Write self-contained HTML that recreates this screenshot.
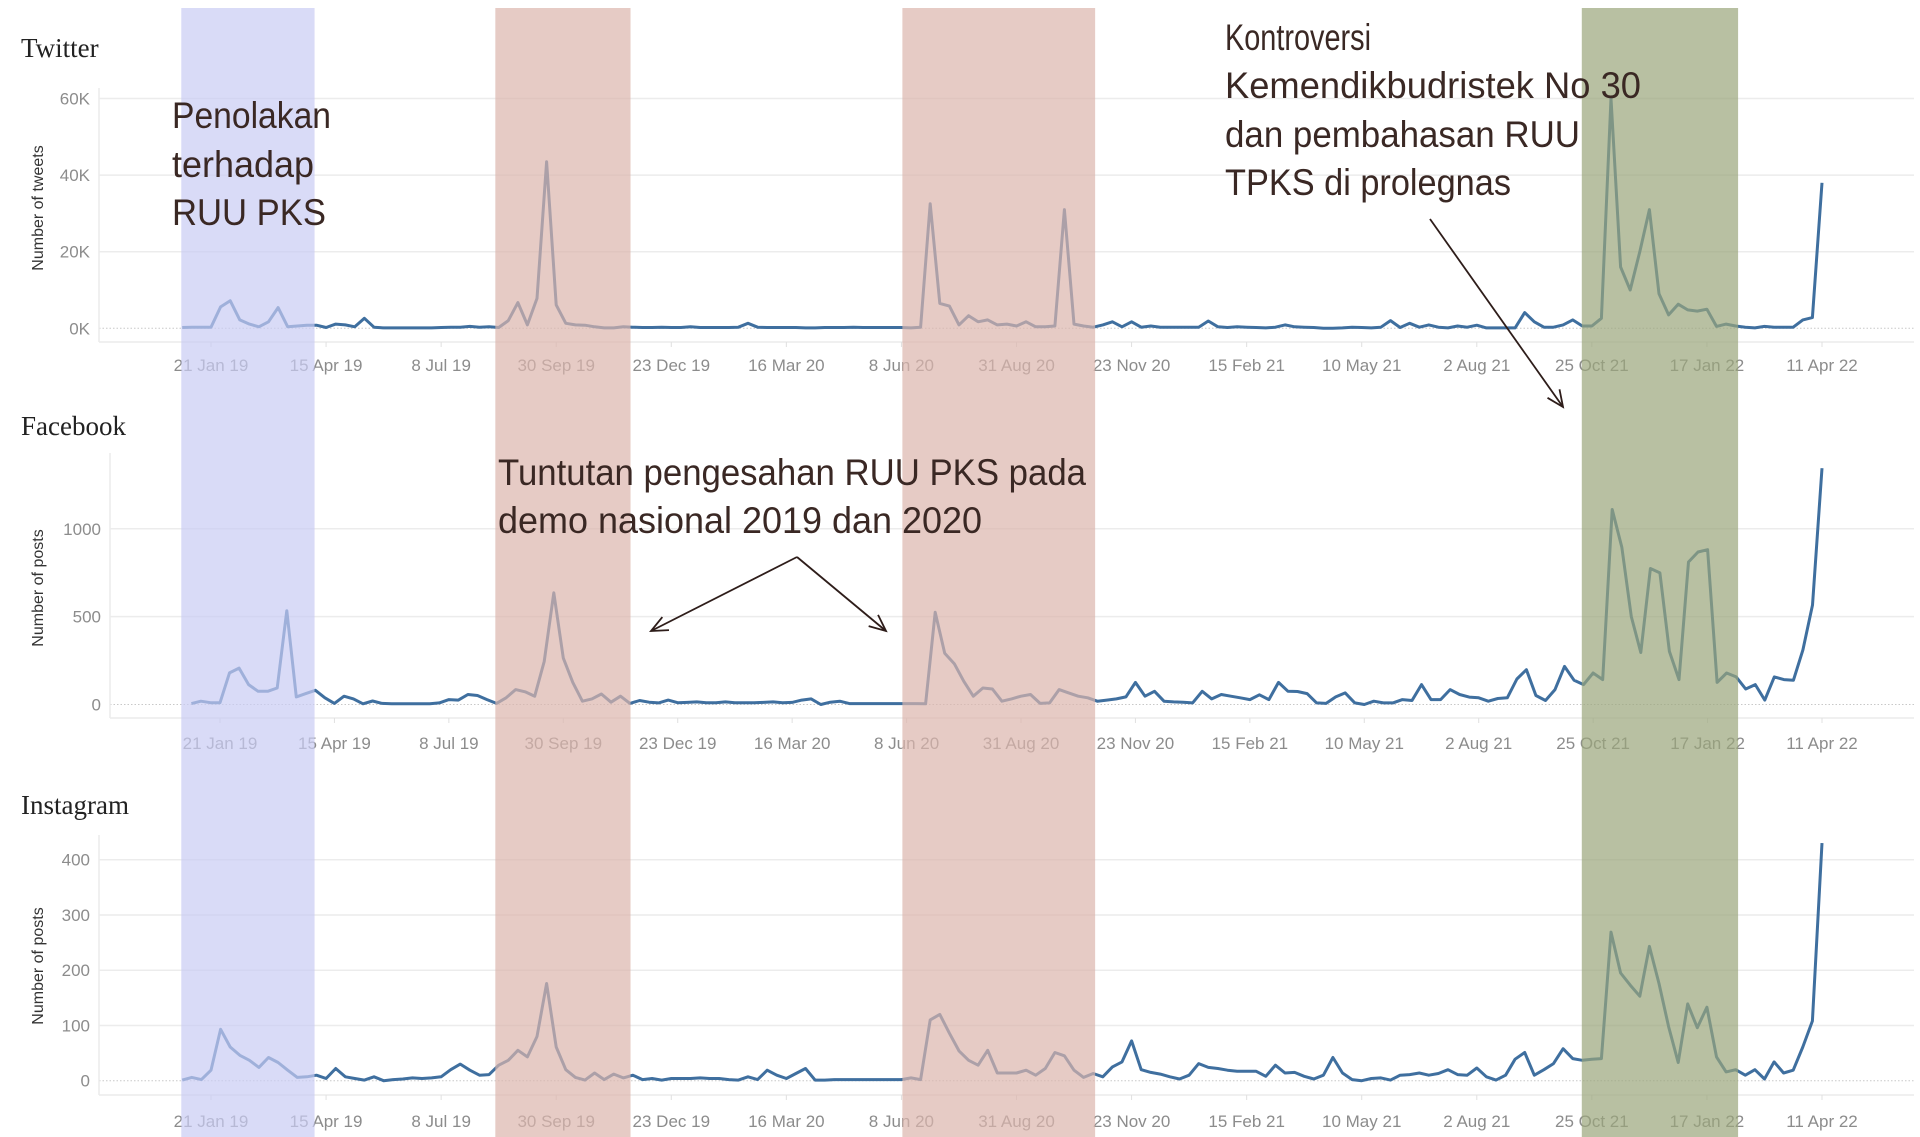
<!DOCTYPE html>
<html><head><meta charset="utf-8">
<style>
html,body{margin:0;padding:0;background:#fff;}
svg{display:block;}
.tick{font-family:"Liberation Sans Narrow","Liberation Sans",sans-serif;font-size:17px;fill:#8c8c8c;}
.ytitle{font-family:"Liberation Sans",sans-serif;font-size:16px;fill:#333;}
.ptitle{font-family:"Liberation Serif",serif;font-size:27px;fill:#222;}
.ann{font-family:"Liberation Sans",sans-serif;font-size:37px;fill:#3a2824;}
</style></head>
<body>
<svg id="chart" width="1920" height="1137" viewBox="0 0 1920 1137" xmlns="http://www.w3.org/2000/svg">
<g id="frames"></g>
<g id="lines"></g>
<g id="bands"></g>
<g id="annotations"></g>
</svg>
<script>
// ---- data ----
const xTickLabels = ["21 Jan 19","15 Apr 19","8 Jul 19","30 Sep 19","23 Dec 19","16 Mar 20","8 Jun 20","31 Aug 20","23 Nov 20","15 Feb 21","10 May 21","2 Aug 21","25 Oct 21","17 Jan 22","11 Apr 22"];
const twitterTicks = [0,20,40,60];
const twitterTickLabels = ["0K","20K","40K","60K"];
const facebookTicks = [0,500,1000];
const facebookTickLabels = ["0","500","1000"];
const instagramTicks = [0,100,200,300,400];
const instagramTickLabels = ["0","100","200","300","400"];
// weekly series, first point 3 weeks before 21 Jan 19 (twitter in thousands)
const twitterValues = [0.2,0.3,0.3,0.3,5.6,7.2,2.2,1.1,0.4,1.7,5.4,
0.4,0.6,0.8,0.8,0.2,1.1,0.9,0.4,2.6,0.3,
0.1,0.1,0.1,0.1,0.1,0.1,0.2,0.3,0.3,0.5,0.3,0.4,0.2,
2.0,6.7,0.9,7.8,43.5,6.1,1.3,0.9,0.8,0.4,0.1,0.1,0.4,0.3,
0.2,0.2,0.3,0.2,0.2,0.4,0.2,0.2,0.2,0.2,0.3,1.3,
0.3,0.2,0.2,0.2,0.2,0.1,0.1,0.2,0.2,0.2,0.3,0.2,0.2,0.2,0.2,0.2,
0.1,0.3,32.5,6.5,5.8,0.9,3.3,1.7,2.2,0.9,
1.1,0.6,1.7,0.4,0.4,0.6,31,
1.1,0.6,0.3,0.9,1.7,0.4,1.7,0.3,0.6,0.3,0.3,0.3,0.3,0.3,
1.9,0.4,0.2,0.4,0.3,0.2,0.1,0.3,0.9,0.4,0.3,0.2,0,0,0.1,0.3,0.2,0.1,0.3,
2.0,0.2,1.3,0.3,0.9,0.3,0.1,0.6,0.3,0.8,0.1,0.1,0.1,0.1,
4.1,1.7,0.3,0.3,0.9,2.2,0.6,0.6,2.6,
60,16,10,20,31,9,3.5,6.3,4.8,4.5,5.0,
0.5,1.1,0.6,0.3,0.1,0.5,0.3,0.3,0.3,2.2,2.8,38];
const facebookValues = [5,19,10,10,180,207,113,75,75,94,534,
43,62,81,38,6,47,32,4,20,6,4,
4,4,4,4,
9,28,25,57,51,28,6,38,85,72,47,
245,636,264,126,19,32,60,13,47,6,23,13,9,25,
10,12,15,10,10,15,10,10,10,12,15,10,12,
25,32,0,13,19,
5,5,5,5,5,5,5,5,
4,525,292,232,132,47,94,88,19,
32,47,57,6,9,85,66,47,38,19,25,32,43,
126,47,75,19,15,13,9,75,32,57,47,38,28,
55,28,126,75,74,62,9,6,43,66,9,0,19,
9,9,28,23,113,28,28,85,57,42,38,19,34,38,
145,198,51,23,85,217,138,113,179,142,
1110,896,500,296,774,749,302,142,811,868,881,
126,179,157,88,113,25,157,142,138,311,566,1345];
const instagramValues = [1,6,2,19,93,61,46,37,24,42,33,
19,6,7,10,4,22,7,4,1,7,
0,2,3,5,4,5,7,20,30,19,
10,11,28,37,55,43,80,176,61,20,
6,1,14,2,12,5,10,2,4,1,
4,4,4,5,4,4,2,1,7,2,
19,10,4,13,22,1,1,2,2,2,
2,2,2,2,2,5,2,
110,120,86,54,37,28,55,14,
14,14,19,10,22,51,45,19,6,13,7,25,34,
72,20,15,12,7,3,10,31,24,22,19,17,17,17,
8,28,14,15,8,3,10,42,14,2,0,4,5,
1,10,11,14,10,13,20,11,10,23,7,1,10,
39,51,10,20,31,58,40,37,39,40,
269,195,173,153,243,176,98,33,139,96,133,
43,16,20,10,20,3,34,14,19,61,108,430];
// highlight periods (week index start/end)
const bandNames = ["band-penolakan","band-demo-2019","band-demo-2020","band-kontroversi-2021"];
const bandStartWeeks = [-0.1,32.65,75.1,145.95];
const bandEndWeeks = [13.8,46.75,95.2,162.25];

const NS="http://www.w3.org/2000/svg";
function mk(tag, attrs, parent, text){
  const e=document.createElementNS(NS,tag);
  for(const k in attrs) e.setAttribute(k,attrs[k]);
  if(text!==undefined) e.textContent=text;
  parent.appendChild(e); return e;
}
const frames=document.getElementById('frames');
const linesG=document.getElementById('lines');
const bandsG=document.getElementById('bands');
const annG=document.getElementById('annotations');

const panels=[
 {name:'twitter',title:'Twitter',titleY:57,ytitle:'Number of tweets',axisX:99,top:88,bottom:342,zeroY:328.3,pxPerUnit:3.83,
  xFirst:211,xLast:1822,ticks:twitterTicks,labels:twitterTickLabels,values:twitterValues,tickLabelY:371,ytitleY:208},
 {name:'facebook',title:'Facebook',titleY:435,ytitle:'Number of posts',axisX:110,top:453,bottom:718,zeroY:704.5,pxPerUnit:0.1757,
  xFirst:220,xLast:1822,ticks:facebookTicks,labels:facebookTickLabels,values:facebookValues,tickLabelY:749,ytitleY:588},
 {name:'instagram',title:'Instagram',titleY:814,ytitle:'Number of posts',axisX:99,top:835,bottom:1095,zeroY:1080.7,pxPerUnit:0.5525,
  xFirst:211,xLast:1822,ticks:instagramTicks,labels:instagramTickLabels,values:instagramValues,tickLabelY:1127,ytitleY:966}
];

panels.forEach(p=>{
  const weekPx=(p.xLast-p.xFirst)/168;
  const xScale=i=>p.xFirst+(i-3)*weekPx;
  const yScale=v=>p.zeroY-v*p.pxPerUnit;
  const g=mk('g',{},frames);
  
  
  const t=mk('text',{x:21,y:p.titleY,'class':'ptitle'},g,p.title);
  
  
  p.ticks.forEach((v,k)=>{
    const y=yScale(v);
    if(v!==0){
      const gl=mk('line',{x1:p.axisX,x2:1914,y1:y,y2:y,stroke:'#ececec','stroke-width':1.5},g);
      
      
    } else {
      const zl=mk('line',{x1:p.axisX,x2:1914,y1:y,y2:y,stroke:'#c8c8c8','stroke-width':1,'stroke-dasharray':'1.5,2'},g);
      
      
    }
    const lab=mk('text',{x:p.axisX-9,y:y+6,'text-anchor':'end','class':'tick'},g,p.labels[k]);
    
    
  });
  const ya=mk('line',{x1:p.axisX,x2:p.axisX,y1:p.top,y2:p.bottom,stroke:'#ececec','stroke-width':1.5},g);
  
  
  const xa=mk('line',{x1:p.axisX,x2:1914,y1:p.bottom,y2:p.bottom,stroke:'#ececec','stroke-width':1.5},g);
  
  
  xTickLabels.forEach((lbl,k)=>{
    const x=xScale(3+k*12);
    const tm=mk('line',{x1:x,x2:x,y1:p.bottom,y2:p.bottom+5,stroke:'#e0e0e0','stroke-width':1},g);
    
    
    const tl=mk('text',{x:x,y:p.tickLabelY,'text-anchor':'middle','class':'tick'},g,lbl);
    
    
  });
  const yt=mk('text',{x:0,y:0,'text-anchor':'middle','class':'ytitle',transform:`translate(43,${p.ytitleY}) rotate(-90)`},g,p.ytitle);
  
  
  const pts=p.values.map((v,i)=>xScale(i).toFixed(1)+','+yScale(v).toFixed(1)).join(' ');
  const pl=mk('polyline',{points:pts,fill:'none',stroke:'#3f6f9f','stroke-width':3,'stroke-linejoin':'round'},linesG);
  
  
});

const bandFill=['rgb(201,204,244)','rgb(219,181,172)','rgb(219,181,172)','rgb(154,165,122)'];
const twWeek=(1822-211)/168;
bandNames.forEach((nm,k)=>{
  const x1=211+(bandStartWeeks[k]-3)*twWeek, x2=211+(bandEndWeeks[k]-3)*twWeek;
  const r=mk('rect',{x:x1,y:8,width:x2-x1,height:1129,fill:bandFill[k],'fill-opacity':0.7},bandsG);
  
  
});

const annLines=[
 ['Penolakan',172,128,159],['terhadap',172,177,142],['RUU PKS',172,225,154],
 ['Kontroversi',1225,50,146],['Kemendikbudristek No 30',1225,98,416],['dan pembahasan RUU',1225,147,355],['TPKS di prolegnas',1225,195,286],
 ['Tuntutan pengesahan RUU PKS pada',498,485,588],['demo nasional 2019 dan 2020',498,533,484]
];
annLines.forEach(a=>{
  const t=mk('text',{x:a[1],y:a[2],'class':'ann',textLength:a[3],lengthAdjust:'spacingAndGlyphs'},annG,a[0]);
  
  
});
function arrow(x1,y1,x2,y2,name){
  const g=mk('g',{},annG);
  
  
  mk('line',{x1,y1,x2,y2,stroke:'#2e1d1a','stroke-width':1.8},g);
  const ang=Math.atan2(y2-y1,x2-x1), L=18, s=0.42;
  const a1=[x2-L*Math.cos(ang-s),y2-L*Math.sin(ang-s)], a2=[x2-L*Math.cos(ang+s),y2-L*Math.sin(ang+s)];
  mk('polyline',{points:`${a1} ${x2},${y2} ${a2}`,fill:'none',stroke:'#2e1d1a','stroke-width':1.8},g);
}
arrow(1430,219,1563,407,'arrow-kontroversi');
arrow(797,557,651,631,'arrow-demo-2019');
arrow(797,557,886,631,'arrow-demo-2020');
</script>
</body></html>
